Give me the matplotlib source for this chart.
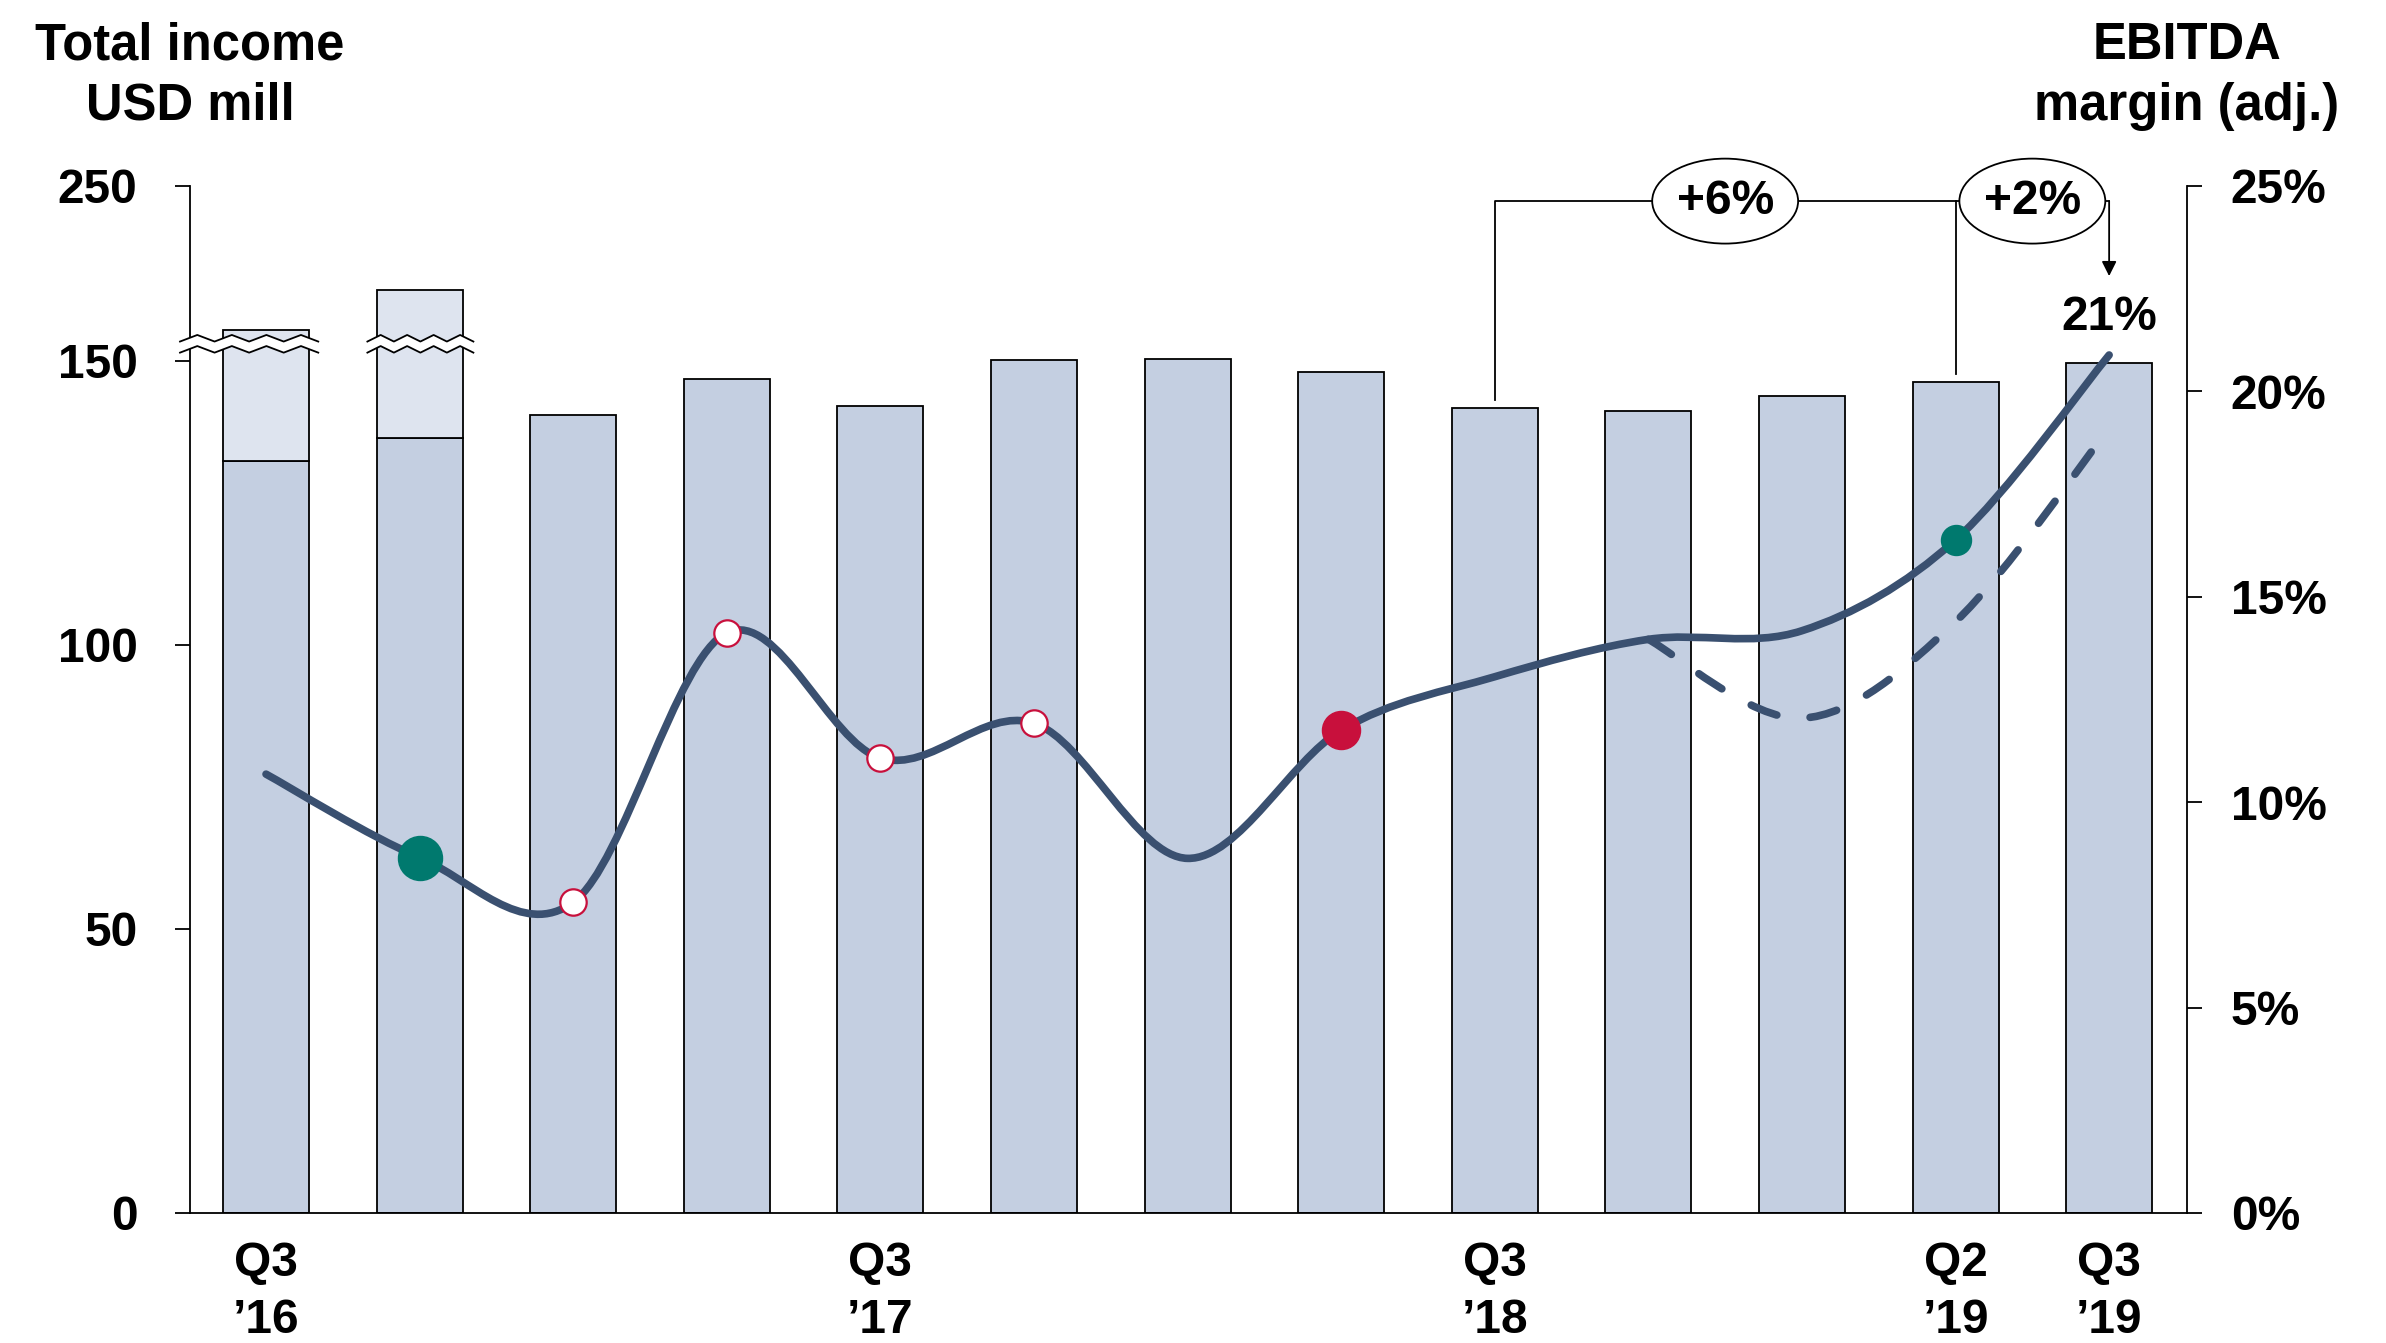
import numpy as np
import matplotlib
matplotlib.use("Agg")
import matplotlib.pyplot as plt
from matplotlib.path import Path
from matplotlib.patches import PathPatch, Ellipse, Polygon
from matplotlib.transforms import blended_transform_factory

# quarterly figures, Q3'16 .. Q3'19
quarters = ["Q3\n’16", "", "", "", "Q3\n’17", "", "", "",
            "Q3\n’18", "", "", "Q2\n’19", "Q3\n’19"]
income = [167.5, 190.4, 140.4, 146.8, 142.0, 150.2, 150.7, 148.0,
          141.6, 141.2, 143.7, 146.3, 149.6]
income_base = [132.4, 136.4]          # underlying part of the first two bars
margin = [10.68, 8.65, 7.56, 14.12, 11.07, 11.92, 8.63, 11.75,
          13.05, 13.96, 14.17, 16.38, 20.88]
margin_alt = [13.96, 12.04, 14.39, 19.1]   # dashed path from Q4'18
alt_start = 9
green_big = [1]
green_small = [11]
white_pts = [2, 3, 4, 5]
red_pts = [7]

BAR = "#C4CFE1"
BAR_LIGHT = "#DEE4EF"
LINE = "#3A5070"
GREEN = "#00796E"
RED = "#C8103C"
FS = 34.5
FS_TITLE = 36.5

plt.rcParams["font.family"] = ["Liberation Sans", "DejaVu Sans"]
plt.rcParams["font.weight"] = "bold"

# broken left axis: linear up to 150, compressed above
BRK = 150.0
K = 0.308


def fwd(y):
    y = np.asarray(y, dtype=float)
    return np.where(y <= BRK, y, BRK + (y - BRK) * K)


def inv(u):
    u = np.asarray(u, dtype=float)
    return np.where(u <= BRK, u, BRK + (u - BRK) / K)


def smooth_path(xs, ys):
    pts = np.column_stack([xs, ys])
    ext = np.vstack([pts[0], pts, pts[-1]])
    verts = [pts[0]]
    codes = [Path.MOVETO]
    for i in range(len(pts) - 1):
        p0, p1, p2, p3 = ext[i], ext[i + 1], ext[i + 2], ext[i + 3]
        verts += [p1 + (p2 - p0) / 6, p2 - (p3 - p1) / 6, p2]
        codes += [Path.CURVE4] * 3
    return Path(verts, codes)


fig = plt.figure(figsize=(23.86, 13.43), dpi=100)
ax = fig.add_axes([0.07963, 0.09680, 0.83684, 0.76493])
ax.set_yscale("function", functions=(fwd, inv))
ax.set_ylim(0, 250)
n = len(income)
x = np.arange(n)
ax.set_xlim(-0.495, 12.505)

# bars
tops = np.array(income, dtype=float)
base = tops.copy()
base[:len(income_base)] = income_base
ax.bar(x, base, width=0.56, color=BAR, edgecolor="black", linewidth=1.3, zorder=2)
ax.bar(x[:len(income_base)], tops[:len(income_base)] - base[:len(income_base)],
       bottom=base[:len(income_base)], width=0.56, color=BAR_LIGHT,
       edgecolor="black", linewidth=1.3, zorder=2)

for s in ["top", "right"]:
    ax.spines[s].set_visible(False)
for s in ["left", "bottom"]:
    ax.spines[s].set_linewidth(1.3)
ax.set_yticks([0, 50, 100, 150, 250])
ax.set_yticklabels(["0", "50", "100", "150", "250"])
ax.yaxis.set_minor_locator(matplotlib.ticker.NullLocator())
ax.tick_params(axis="y", direction="out", length=10.8, width=1.3, pad=27, labelsize=FS)
ax.set_xticks(x)
ax.set_xticklabels(quarters, linespacing=1.35)
ax.tick_params(axis="x", length=0, pad=20, labelsize=FS)

# axis break zigzags across the spine and the first two bars
bt = blended_transform_factory(ax.transData, ax.transAxes)
y_hi, y_lo, amp = 0.8515, 0.8407, 0.0032
for x0, x1 in [(-0.56, 0.34), (0.66, 1.35)]:
    xs = np.linspace(x0, x1, 9)
    wave = amp * np.where(np.arange(len(xs)) % 2 == 0, -1, 1)
    poly = np.vstack([np.column_stack([xs, y_hi + wave]),
                      np.column_stack([xs[::-1], (y_lo + wave)[::-1]])])
    ax.add_patch(Polygon(poly, closed=True, facecolor="white", edgecolor="none",
                         transform=bt, clip_on=False, zorder=4))
    ax.plot(xs, y_hi + wave, color="black", lw=1.3, transform=bt, clip_on=False, zorder=5)
    ax.plot(xs, y_lo + wave, color="black", lw=1.3, transform=bt, clip_on=False, zorder=5)

# right axis: EBITDA margin
ax2 = ax.twinx()
ax2.set_ylim(0, 25)
ax2.set_xlim(ax.get_xlim())
for s in ["top", "left", "bottom"]:
    ax2.spines[s].set_visible(False)
ax2.spines["right"].set_linewidth(1.3)
ax2.set_yticks(range(0, 26, 5))
ax2.set_yticklabels([f"{v}%" for v in range(0, 26, 5)])
ax2.tick_params(axis="y", direction="out", length=10.8, width=1.3, pad=21, labelsize=FS)

ax2.add_patch(PathPatch(smooth_path(x, margin), facecolor="none", edgecolor=LINE,
                        lw=5.5, capstyle="round", joinstyle="round", zorder=3))
xa = np.arange(alt_start, alt_start + len(margin_alt))
alt = PathPatch(smooth_path(xa, margin_alt), facecolor="none", edgecolor=LINE,
                lw=5.5, linestyle=(0, (3.6, 4.4)), capstyle="round", zorder=3)
ax2.add_patch(alt)

m = np.array(margin)
ax2.plot(x[green_big], m[green_big], "o", ms=31.7, mfc=GREEN, mec=GREEN, zorder=6)
ax2.plot(x[green_small], m[green_small], "o", ms=21.6, mfc=GREEN, mec=GREEN, zorder=6)
ax2.plot(x[red_pts], m[red_pts], "o", ms=27.4, mfc=RED, mec=RED, zorder=6)
ax2.plot(x[white_pts], m[white_pts], "o", ms=19, mfc="white", mec=RED, mew=1.6, zorder=6)

ax2.annotate(f"{margin[-1]:.0f}%", xy=(x[-1], margin[-1]), xytext=(0, 27),
             textcoords="offset points", ha="center", va="center", fontsize=FS, zorder=7)

# growth brackets
to_axes = ax.transAxes.inverted()


def top_frac(i):
    return to_axes.transform(ax.transData.transform((x[i], income[i])))[1]


y_br = 0.985
i_a, i_b, i_c = 8, 11, 12
ax.plot([x[i_a], x[i_a], x[i_c]], [top_frac(i_a) + 0.008, y_br, y_br],
        color="black", lw=1.3, transform=bt, clip_on=False, zorder=5)
ax.plot([x[i_b], x[i_b]], [top_frac(i_b) + 0.008, y_br],
        color="black", lw=1.3, transform=bt, clip_on=False, zorder=5)
ax.annotate("", xy=(x[i_c], 0.912), xytext=(x[i_c], y_br), xycoords=bt, textcoords=bt,
            arrowprops=dict(arrowstyle="-|>", lw=1.3, color="black",
                            mutation_scale=22, shrinkA=0, shrinkB=0),
            annotation_clip=False, zorder=5)
growth = [(i_a, i_c, 9.5), (i_b, i_c, 11.5)]
for ia, ib, xc in growth:
    g = (income[ib] / income[ia] - 1) * 100
    ax.add_patch(Ellipse((xc, y_br), 0.95, 0.0827, facecolor="white", edgecolor="black",
                         lw=1.3, transform=bt, clip_on=False, zorder=6))
    ax.text(xc, y_br, f"+{g:.0f}%", ha="center", va="center", fontsize=FS,
            transform=bt, zorder=7)

fig.text(190 / 2386, 1 - 76 / 1343, "Total income\nUSD mill", ha="center", va="center",
         ma="center", fontsize=FS_TITLE, linespacing=1.3)
fig.text(2187 / 2386, 1 - 76 / 1343, "EBITDA\nmargin (adj.)", ha="center", va="center",
         ma="center", fontsize=FS_TITLE, linespacing=1.3)

fig.savefig("out.png", dpi=100)
